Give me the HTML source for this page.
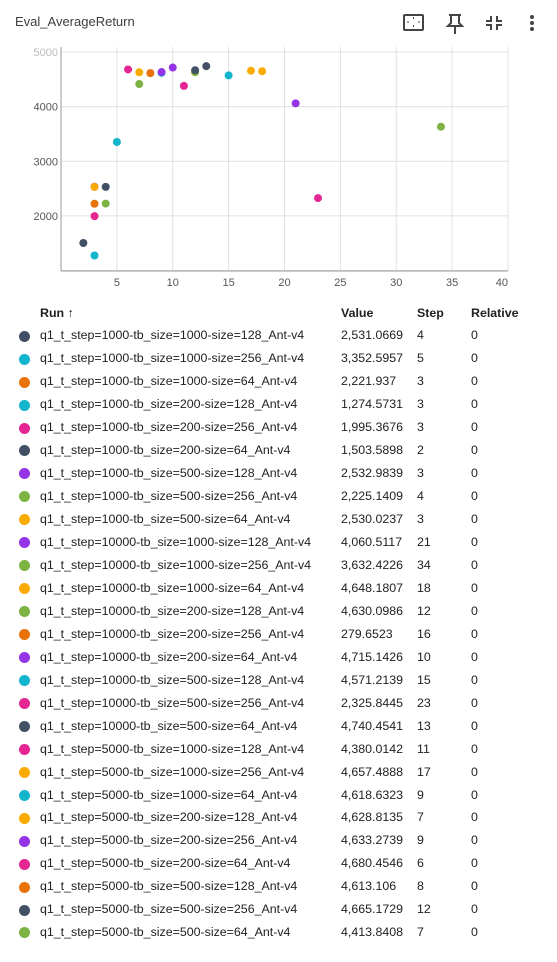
<!DOCTYPE html>
<html><head><meta charset="utf-8"><style>
body{margin:0;width:557px;height:962px;background:#fff;font-family:"Liberation Sans",sans-serif;color:#202124;position:relative;overflow:hidden}
.title{position:absolute;left:15px;top:14px;font-size:13px;color:#3c4043}
.ic{position:absolute;top:12px}
table{position:absolute;left:0;top:302px;border-collapse:collapse;font-size:12.4px}
td,th{padding:0;height:22.96px;white-space:nowrap}
th{font-weight:bold;text-align:left;height:22px}
.dot{display:inline-block;width:11px;height:11px;border-radius:50%;vertical-align:middle}
</style></head><body>
<div class="title">Eval_AverageReturn</div>
<svg class="ic" style="left:402px" width="24" height="22"><rect x="2" y="3" width="19" height="15" rx="1" fill="none" stroke="#444" stroke-width="2"/><path d="M7 10h-2M18 10h-2M11.5 7v-2M11.5 15v-2" stroke="#444"/></svg>
<svg class="ic" style="left:445px" width="20" height="22"><path d="M4 3h12M6 3v8l-3 3h14l-3-3V3M10 14v8" stroke="#444" stroke-width="2" fill="none"/></svg>
<svg class="ic" style="left:484px" width="20" height="22"><path d="M7 4v5H2M13 4v5h5M7 18v-5H2M13 18v-5h5" stroke="#444" stroke-width="2" fill="none"/></svg>
<svg class="ic" style="left:527px" width="10" height="22"><circle cx="5" cy="5" r="2" fill="#444"/><circle cx="5" cy="11" r="2" fill="#444"/><circle cx="5" cy="17" r="2" fill="#444"/></svg>
<svg id="chart" width="557" height="300" style="position:absolute;left:0;top:0"></svg>
<table id="tbl">
<tr><th style="width:40px"></th><th style="width:301px">Run ↑</th><th style="width:76px">Value</th><th style="width:54px">Step</th><th>Relative</th></tr>
</table>
<script>
const runs=["q1_t_step=1000-tb_size=1000-size=128_Ant-v4","q1_t_step=1000-tb_size=1000-size=256_Ant-v4","q1_t_step=1000-tb_size=1000-size=64_Ant-v4","q1_t_step=1000-tb_size=200-size=128_Ant-v4","q1_t_step=1000-tb_size=200-size=256_Ant-v4","q1_t_step=1000-tb_size=200-size=64_Ant-v4","q1_t_step=1000-tb_size=500-size=128_Ant-v4","q1_t_step=1000-tb_size=500-size=256_Ant-v4","q1_t_step=1000-tb_size=500-size=64_Ant-v4","q1_t_step=10000-tb_size=1000-size=128_Ant-v4","q1_t_step=10000-tb_size=1000-size=256_Ant-v4","q1_t_step=10000-tb_size=1000-size=64_Ant-v4","q1_t_step=10000-tb_size=200-size=128_Ant-v4","q1_t_step=10000-tb_size=200-size=256_Ant-v4","q1_t_step=10000-tb_size=200-size=64_Ant-v4","q1_t_step=10000-tb_size=500-size=128_Ant-v4","q1_t_step=10000-tb_size=500-size=256_Ant-v4","q1_t_step=10000-tb_size=500-size=64_Ant-v4","q1_t_step=5000-tb_size=1000-size=128_Ant-v4","q1_t_step=5000-tb_size=1000-size=256_Ant-v4","q1_t_step=5000-tb_size=1000-size=64_Ant-v4","q1_t_step=5000-tb_size=200-size=128_Ant-v4","q1_t_step=5000-tb_size=200-size=256_Ant-v4","q1_t_step=5000-tb_size=200-size=64_Ant-v4","q1_t_step=5000-tb_size=500-size=128_Ant-v4","q1_t_step=5000-tb_size=500-size=256_Ant-v4","q1_t_step=5000-tb_size=500-size=64_Ant-v4"];
const values=[2531.0669,3352.5957,2221.937,1274.5731,1995.3676,1503.5898,2532.9839,2225.1409,2530.0237,4060.5117,3632.4226,4648.1807,4630.0986,279.6523,4715.1426,4571.2139,2325.8445,4740.4541,4380.0142,4657.4888,4618.6323,4628.8135,4633.2739,4680.4546,4613.106,4665.1729,4413.8408];
const valueLabels=["2,531.0669","3,352.5957","2,221.937","1,274.5731","1,995.3676","1,503.5898","2,532.9839","2,225.1409","2,530.0237","4,060.5117","3,632.4226","4,648.1807","4,630.0986","279.6523","4,715.1426","4,571.2139","2,325.8445","4,740.4541","4,380.0142","4,657.4888","4,618.6323","4,628.8135","4,633.2739","4,680.4546","4,613.106","4,665.1729","4,413.8408"];
const steps=[4,5,3,3,3,2,3,4,3,21,34,18,12,16,10,15,23,13,11,17,9,7,9,6,8,12,7];
const colors=["#425066","#12b5cb","#e8710a","#12b5cb","#e52592","#425066","#9334e6","#7cb342","#f9ab00","#9334e6","#7cb342","#f9ab00","#7cb342","#e8710a","#9334e6","#12b5cb","#e52592","#425066","#e52592","#f9ab00","#12b5cb","#f9ab00","#9334e6","#e52592","#e8710a","#425066","#7cb342"];
const xTicks=[5,10,15,20,25,30,35,40];
const yTicks=[1000,2000,3000,4000,5000];
const NS="http://www.w3.org/2000/svg";
const L=61,R=508,T=47,B=271;
const xs=v=>L+(v/40)*(R-L);
const ys=v=>270.5-(v-1000)/4000*(270.5-52);
const svg=document.getElementById('chart');
function mk(t,a){const e=document.createElementNS(NS,t);for(const k in a)e.setAttribute(k,a[k]);svg.appendChild(e);return e;}
const cp=mk('clipPath',{id:'cp'});const cr=document.createElementNS(NS,'rect');cr.setAttribute('x',L);cr.setAttribute('y',T);cr.setAttribute('width',R-L);cr.setAttribute('height',B-T);cp.appendChild(cr);
xTicks.forEach(t=>{const l=mk('line',{x1:xs(t),x2:xs(t),y1:T,y2:B,stroke:'#e0e0e0'});


const tx=mk('text',{x:xs(t),y:286,'text-anchor':t==40?'end':'middle','font-size':'11',fill:'#555'});tx.textContent=t;

});
yTicks.forEach(t=>{const l=mk('line',{x1:L,x2:R,y1:ys(t),y2:ys(t),stroke:'#e0e0e0'});


if(t>1000){const tx=mk('text',{x:58,y:ys(t)+4,'text-anchor':'end','font-size':'11',fill:t==5000?'#bbb':'#555'});tx.textContent=t;

}});
mk('line',{x1:L,x2:L,y1:T,y2:B,stroke:'#999'});
mk('line',{x1:L,x2:R,y1:B,y2:B,stroke:'#999'});
const g=mk('g',{'clip-path':'url(#cp)'});
values.forEach((v,i)=>{const c=document.createElementNS(NS,'circle');c.setAttribute('cx',xs(steps[i]));c.setAttribute('cy',ys(v));c.setAttribute('r',4);c.setAttribute('fill',colors[i]);


g.appendChild(c);});
const tb=document.getElementById('tbl');
runs.forEach((r,i)=>{const tr=document.createElement('tr');


tr.innerHTML='<td style="padding-left:19px"><span class="dot" style="background:'+colors[i]+'"></span></td><td>'+r+'</td><td>'+valueLabels[i]+'</td><td>'+steps[i]+'</td><td>0</td>';
tb.appendChild(tr);});
</script>
</body></html>
